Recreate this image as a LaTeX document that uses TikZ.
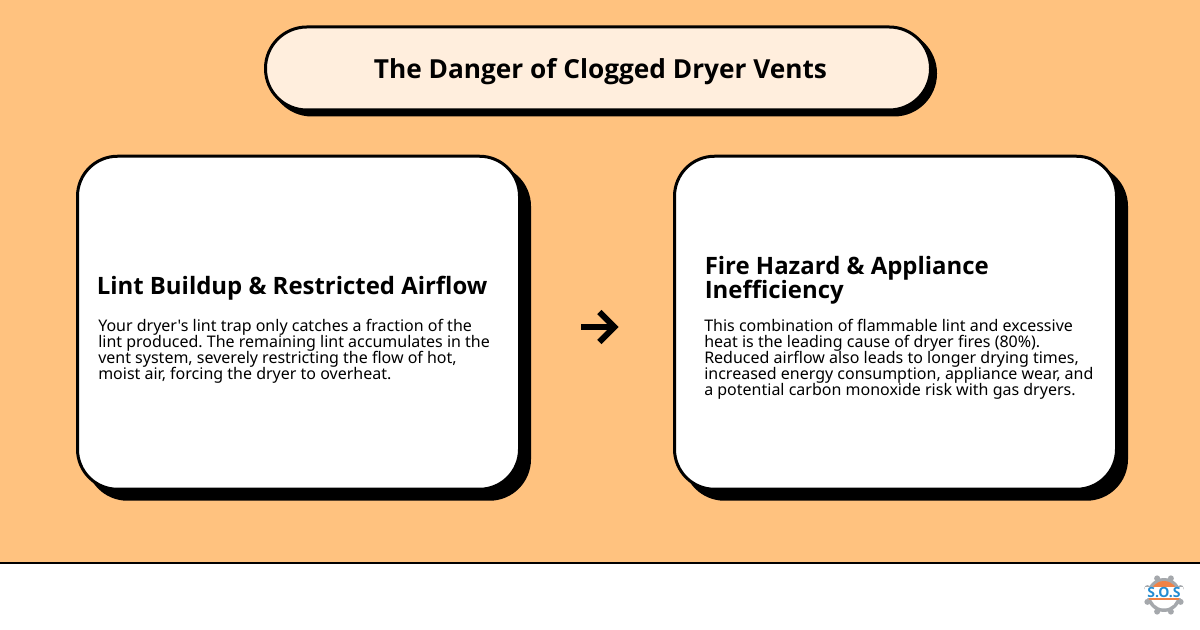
\documentclass[tikz,border=0pt]{standalone}
\usepackage{fontspec}
\setmainfont{Noto Sans}[Ligatures=TeXOff]
\newfontfamily\headfont{Open Sans}[Ligatures=TeXOff]
\definecolor{pagebg}{RGB}{255,194,127}
\definecolor{pillbg}{RGB}{255,238,221}
\definecolor{gearcol}{RGB}{165,168,172}
\definecolor{logoblue}{RGB}{35,140,210}
\definecolor{logored}{RGB}{240,130,70}
\tikzset{
  titlepill/.style={draw=black,line width=2.25pt,fill=pillbg,rounded corners=31pt,minimum width=498.75pt,minimum height=62.25pt,inner sep=0pt},
  pillshade/.style={titlepill,fill=black},
  cardbox/.style={draw=black,line width=2.25pt,fill=white,rounded corners=30pt,minimum width=331.5pt,minimum height=249.75pt,inner sep=0pt},
  cardshade/.style={cardbox,fill=black},
  headtext/.style={anchor=west,align=left,inner sep=0pt,font={\headfont\fontsize{17.95}{18}\selectfont\bfseries\lineskiplimit-20pt }},
  bodytext/.style={anchor=west,align=left,inner sep=0pt,font={\fontsize{12}{12}\selectfont\frenchspacing\lineskiplimit-20pt }},
  arrowline/.style={line width=4.5pt,miter limit=10},
}
\begin{document}
\begin{tikzpicture}[x=0.75pt,y=0.75pt,yscale=-1]
\useasboundingbox (0,0) rectangle (1200,630);

%Shape: Background
\fill [pagebg] (0,0) rectangle (1200,564);
\draw [line width=1.5pt] (0,563) -- (1200,563);

%Shape: Title pill
\node [pillshade] (titleshade) at (603,73.5) {};
\node [titlepill] (titlepill) at (598,68.5) {};
%Shape: Left card
\node [cardshade] (leftshade) at (308.5,332.75) {};
\node [cardbox] (leftcard) at (298.5,322.75) {};
%Shape: Right card
\node [cardshade] (rightshade) at (905.5,332.75) {};
\node [cardbox] (rightcard) at (895.5,322.75) {};

%Straight Lines
\coordinate (arrowtail) at (581,327);
\coordinate (arrowneck) at (612,327);
\coordinate (arrowtip) at (614.3,327);
\coordinate (barbtop) at (599.3,312);
\coordinate (barbbot) at (599.3,342);
\draw [arrowline] (arrowtail) -- (arrowneck);
\draw [arrowline] (barbtop) -- (arrowtip) -- (barbbot);

% Text Node
\node [font=\headfont\fontsize{19.67}{20}\selectfont\bfseries] (titletext) at (600.5,72) {The Danger of Clogged Dryer Vents};
% Text Node
\node [headtext] (lefthead) at (96.5,288) {Lint Buildup \& Restricted Airflow};
% Text Node
\node [bodytext] (leftbody) at (98,351.5) {Your dryer's lint trap only catches a fraction of the\\lint produced. The remaining lint accumulates in the\\vent system, severely restricting the flow of hot,\\moist air, forcing the dryer to overheat.};
% Text Node
\node [headtext] (righthead) at (704.5,280) {Fire Hazard \& Appliance\\Inefficiency};
% Text Node
\node [bodytext] (rightbody) at (704,359) {This combination of flammable lint and excessive\\heat is the leading cause of dryer fires (80\%).\\Reduced airflow also leads to longer drying times,\\increased energy consumption, appliance wear, and\\a potential carbon monoxide risk with gas dryers.};

%Shape: Logo
\coordinate (logomid) at (1164,595);
\foreach \a in {0,45,...,315}
  \fill [gearcol] ([shift={(\a+22.5:18)}]logomid) circle (3);
\fill [gearcol] (logomid) circle (17);
\fill [white] (logomid) circle (13.5);
\fill [logored] ([shift={(180:14)}]logomid) arc (180:360:14) -- ([shift={(0:8)}]logomid) arc (360:180:8) -- cycle;
\fill [logoblue!60!white] (1154,600) arc (180:0:10 and -8) -- cycle;
\fill [white] (1145,587) rectangle (1183,598);
\fill [logored] (1149,598) rectangle (1179,600);
\node [font=\headfont\fontsize{10.5}{10.5}\selectfont\bfseries,text=logoblue,inner sep=0pt] (logotext) at (1164,592.5) {S.O.S};
\end{tikzpicture}
\end{document}
